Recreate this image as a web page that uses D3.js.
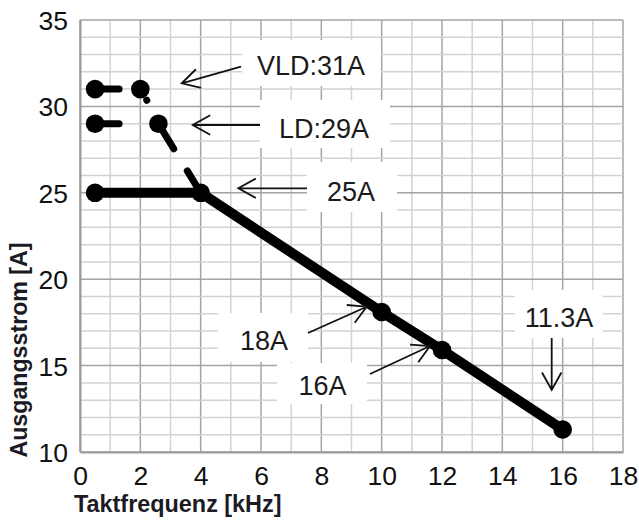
<!DOCTYPE html>
<html><head><meta charset="utf-8">
<script src="https://cdn.jsdelivr.net/npm/d3@7"></script>
<style>body{margin:0;background:#fff} svg{display:block}</style>
</head><body><svg id="c" width="639" height="520"></svg>
<script>
// ---- data ----
const mainFreq = [0.5, 4, 10, 12, 16];
const mainCurrent = [25, 25, 18.1, 15.9, 11.3];
const vldFreq = [0.5, 2, 4];
const vldCurrent = [31, 31, 25];
const ldFreq = [0.5, 2.6, 4];
const ldCurrent = [29, 29, 25];
const xTicks = [0, 2, 4, 6, 8, 10, 12, 14, 16, 18];
const yTicks = [10, 15, 20, 25, 30, 35];
const annotationTexts = ["VLD:31A", "LD:29A", "25A", "18A", "16A", "11.3A"];
const xTitle = "Taktfrequenz [kHz]";
const yTitle = "Ausgangsstrom [A]";

// ---- layout (pixels) ----
const W = 639, H = 520;
const plot = {l: 80, r: 623, t: 20, b: 452};
const annLayout = [
  {box: [242, 40, 139, 46], tx: 311, ty: 75, a: [241, 66.7, 181.7, 83.3]},
  {box: [260, 100, 130, 48], tx: 324, ty: 138, a: [260, 125, 192.7, 125]},
  {box: [307, 162, 90, 50], tx: 351, ty: 201, a: [307, 188.3, 238.3, 188.3]},
  {box: [218, 313, 90, 49], tx: 264, ty: 350, a: [308, 333, 366.7, 306.7]},
  {box: [277, 363, 90, 41], tx: 322.5, ty: 395, a: [370, 374, 430, 346]},
  {box: [515, 290, 88, 48], tx: 559, ty: 327, a: [551.7, 338, 551.7, 390]}
];
const FONT = "'Liberation Sans', Arial, Helvetica, sans-serif";

const svg = d3.select("#c");
svg.append("rect").attr("width", W).attr("height", H).attr("fill", "#fff");

const x = d3.scaleLinear().domain([0, 18]).range([plot.l, plot.r]);
const y = d3.scaleLinear().domain([10, 35]).range([plot.b, plot.t]);

// grid
const g = svg.append("g");
const xGrid = d3.range(0, 19, 1), yGrid = d3.range(10, 36, 1);
g.selectAll("line.vx").data(xGrid).join("line")
  .attr("x1", d => x(d)).attr("x2", d => x(d)).attr("y1", plot.t).attr("y2", plot.b)
  .attr("stroke", d => d % 2 === 0 ? "#a4a4a4" : "#d2d2d2").attr("stroke-width", 1.5);
g.selectAll("line.hy").data(yGrid).join("line")
  .attr("y1", d => y(d)).attr("y2", d => y(d)).attr("x1", plot.l).attr("x2", plot.r)
  .attr("stroke", d => d % 5 === 0 ? "#a4a4a4" : "#d2d2d2").attr("stroke-width", 1.5);

// axes (labels via d3 axes)
const xAxis = svg.append("g").attr("transform", `translate(0,${plot.b})`)
  .call(d3.axisBottom(x).tickValues(xTicks).tickSize(0).tickPadding(0).tickFormat(d3.format("d")));
xAxis.select(".domain").attr("stroke", "#9a9a9a").attr("stroke-width", 2);
xAxis.selectAll("text").attr("font-family", FONT).attr("font-size", 26.5).attr("fill", "#111")
  .attr("dy", null).attr("y", 33);
const yAxis = svg.append("g").attr("transform", `translate(${plot.l},0)`)
  .call(d3.axisLeft(y).tickValues(yTicks).tickSize(0).tickPadding(12).tickFormat(d3.format("d")));
yAxis.select(".domain").attr("stroke", "#9a9a9a").attr("stroke-width", 2);
yAxis.selectAll("text").attr("font-family", FONT).attr("font-size", 26.5).attr("fill", "#111")
  .attr("dy", "0.36em");

// annotation boxes
svg.selectAll("rect.box").data(annLayout).join("rect")
  .attr("x", d => d.box[0]).attr("y", d => d.box[1]).attr("width", d => d.box[2]).attr("height", d => d.box[3])
  .attr("fill", "#fff");

// lines
const line = d3.line().x(d => x(d[0])).y(d => y(d[1]));
const vld = vldFreq.map((f, i) => [f, vldCurrent[i]]);
const ld = ldFreq.map((f, i) => [f, ldCurrent[i]]);
const main = mainFreq.map((f, i) => [f, mainCurrent[i]]);

svg.append("path").datum(ld).attr("d", line).attr("fill", "none").attr("stroke", "#000")
  .attr("stroke-width", 7).attr("stroke-linecap", "round").attr("stroke-dasharray", "24 38.7 30 26 60");
svg.append("path").datum(vld).attr("d", line).attr("fill", "none").attr("stroke", "#000")
  .attr("stroke-width", 7).attr("stroke-linecap", "round").attr("stroke-dasharray", "24 34 0.1 400");
svg.append("path").datum(main).attr("d", line).attr("fill", "none").attr("stroke", "#000")
  .attr("stroke-width", 10).attr("stroke-linejoin", "round");

// dots
const dots = [...vld.slice(0, 2), ...ld.slice(0, 2), ...main];
svg.selectAll("circle.dot").data(dots).join("circle")
  .attr("cx", d => x(d[0])).attr("cy", d => y(d[1])).attr("r", 9.3).attr("fill", "#000");

// arrows
const HL = 20, HA = 29 * Math.PI / 180;
annLayout.forEach(d => {
  const [x1, y1, x2, y2] = d.a;
  const ang = Math.atan2(y1 - y2, x1 - x2);
  const p = `M${x1},${y1}L${x2},${y2}` +
    `M${x2 + HL * Math.cos(ang + HA)},${y2 + HL * Math.sin(ang + HA)}L${x2},${y2}` +
    `L${x2 + HL * Math.cos(ang - HA)},${y2 + HL * Math.sin(ang - HA)}`;
  svg.append("path").attr("d", p).attr("fill", "none").attr("stroke", "#111").attr("stroke-width", 1.8);
});

// annotation texts
svg.selectAll("text.ann").data(annLayout).join("text")
  .attr("x", d => d.tx).attr("y", d => d.ty).attr("text-anchor", "middle")
  .attr("font-family", FONT).attr("font-size", 27).attr("fill", "#1a1a1a")
  .text((d, i) => annotationTexts[i]);

// axis titles
svg.append("text").attr("x", 74).attr("y", 512).attr("font-family", FONT).attr("font-weight", "bold")
  .attr("font-size", 23.4).attr("fill", "#1c1a24").text(xTitle);
svg.append("text").attr("transform", "translate(27,350) rotate(-90)").attr("text-anchor", "middle")
  .attr("font-family", FONT).attr("font-weight", "bold").attr("font-size", 23.2).attr("fill", "#1c1a24").text(yTitle);
</script>
</body></html>
